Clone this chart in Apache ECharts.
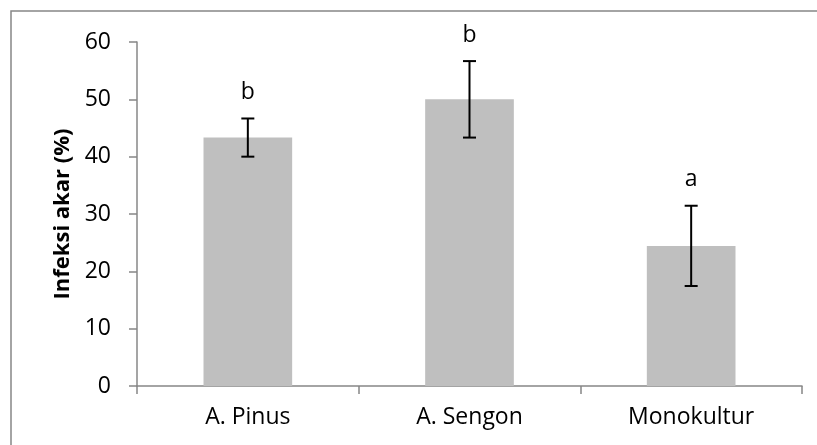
<!DOCTYPE html>
<html>
<head>
<meta charset="utf-8">
<script src="https://cdn.jsdelivr.net/npm/echarts@6/dist/echarts.min.js"></script>
<style>
	html, body { margin: 0; padding: 0; background: #fff; }
	#main { width: 817px; height: 445px; }
</style>
</head>
<body>
<div id="main"></div>
<script>
var kategori = ['A. Pinus', 'A. Sengon', 'Monokultur'];
var rataan = [43.33, 50.0, 24.44];
var galat = [3.33, 6.67, 7.0];
var huruf = ['b', 'b', 'a'];
var yTicks = [0, 10, 20, 30, 40, 50, 60];

var fontUtama = '"Open Sans", "Noto Sans", sans-serif';

let chartDom = document.getElementById('main');
let myChart = echarts.init(chartDom);

// data untuk error bar: [index, bawah, atas, huruf]
let dataGalat = [];
for (let i = 0; i < kategori.length; i++) {
	dataGalat.push([i, rataan[i] - galat[i], rataan[i] + galat[i], huruf[i]]);
}

function gambarGalat(params, api) {
	let x = api.value(0);
	let bawah = api.coord([x, api.value(1)]);
	let atas = api.coord([x, api.value(2)]);
	let lebar = 6.5;
	let gaya = { stroke: '#000', lineWidth: 2 };
	return {
		type: 'group',
		children: [
			{ type: 'line', shape: { x1: atas[0], y1: atas[1], x2: bawah[0], y2: bawah[1] }, style: gaya },
			{ type: 'line', shape: { x1: atas[0] - lebar, y1: atas[1], x2: atas[0] + lebar, y2: atas[1] }, style: gaya },
			{ type: 'line', shape: { x1: bawah[0] - lebar, y1: bawah[1], x2: bawah[0] + lebar, y2: bawah[1] }, style: gaya },
			{
				type: 'text',
				x: atas[0],
				y: atas[1] - 26,
				style: {
					text: api.value(3),
					fill: '#000',
					font: '23px ' + fontUtama,
					align: 'center',
					verticalAlign: 'middle'
				}
			}
		]
	};
}

let option = {
	animation: false,
	graphic: [{
		type: 'rect',
		shape: { x: 11, y: 11, width: 840, height: 480 },
		style: { fill: 'none', stroke: '#878787', lineWidth: 1.5 }
	}],
	grid: {
		left: 137,
		right: 15,
		top: 42,
		bottom: 59
	},
	xAxis: {
		type: 'category',
		data: kategori,
		axisLine: { lineStyle: { color: '#878787', width: 1.5 } },
		axisTick: { show: true, length: 8, lineStyle: { color: '#878787', width: 1.5 } },
		axisLabel: { color: '#000', fontSize: 23, fontFamily: fontUtama, margin: 20 }
	},
	yAxis: {
		type: 'value',
		min: yTicks[0],
		max: yTicks[yTicks.length - 1],
		interval: 10,
		name: 'Infeksi akar (%)',
		nameLocation: 'middle',
		nameGap: 62,
		nameTextStyle: { color: '#000', fontSize: 22, fontWeight: 'bold', fontFamily: fontUtama },
		axisLine: { show: true, lineStyle: { color: '#878787', width: 1.5 } },
		axisTick: { show: true, length: 8, lineStyle: { color: '#878787', width: 1.5 } },
		axisLabel: { color: '#000', fontSize: 23, fontFamily: fontUtama, margin: 26 },
		splitLine: { show: false }
	},
	series: [{
		type: 'bar',
		data: rataan,
		barWidth: '40%',
		itemStyle: { color: '#BFBFBF' }
	}, {
		type: 'custom',
		renderItem: gambarGalat,
		data: dataGalat,
		z: 5
	}]
};
option && myChart.setOption(option);
</script>
</body>
</html>
